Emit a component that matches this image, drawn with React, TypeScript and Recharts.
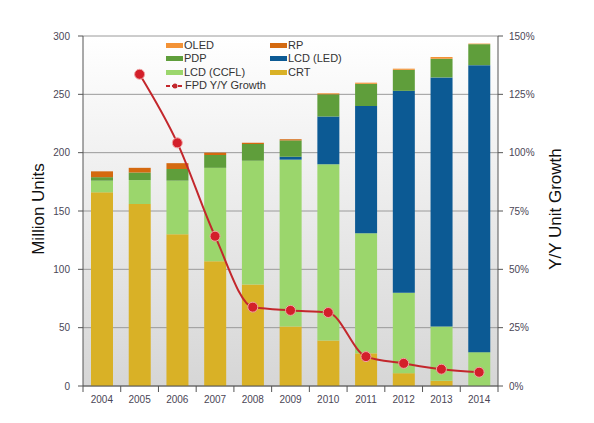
import React from 'react';
import { ComposedChart, Bar, Line, XAxis, YAxis, CartesianGrid } from 'recharts';

const years = ['2004', '2005', '2006', '2007', '2008', '2009', '2010', '2011', '2012', '2013', '2014'];
const crt = [166, 156, 130, 107, 87, 51, 39, 28, 11, 4.5, 0];
const lcdCcfl = [10, 20.5, 46, 80, 106, 143, 151, 103, 69, 46.5, 29];
const lcdLed = [0, 0, 0, 0, 0, 2.5, 41, 109, 173, 213.5, 246];
const pdp = [3, 6.5, 10, 11, 14.5, 14, 19, 19, 18, 16, 18];
const rp = [5, 4, 5, 2, 1, 1, 0.3, 0, 0, 0, 0];
const oled = [0, 0, 0, 0, 0, 0, 0.6, 1, 1, 1.5, 0.5];
const growth = [null, 133.6, 104.2, 64.2, 33.8, 32.4, 31.5, 12.6, 9.7, 7.2, 5.9];

const unitTicks = [0, 50, 100, 150, 200, 250, 300];
const growthTicks = [0, 25, 50, 75, 100, 125, 150];

const data = years.map((year, i) => ({
  year,
  crt: crt[i],
  lcdCcfl: lcdCcfl[i],
  lcdLed: lcdLed[i],
  pdp: pdp[i],
  rp: rp[i],
  oled: oled[i],
  growth: growth[i],
}));

const W = 594;
const H = 423;
const LEFT_W = 83;
const RIGHT_W = 96;
const BAND = (W - LEFT_W - RIGHT_W) / years.length;
const BAR_W = 22;

const colors = {
  crt: '#d9b126',
  lcdCcfl: '#9bd66c',
  lcdLed: '#0c5a94',
  pdp: '#5f9e3b',
  rp: '#d4690f',
  oled: '#f39236',
  line: '#c3272c',
};

const tickStyle = { fontSize: 10, fill: '#4a4656', fontFamily: 'Liberation Sans, Arial, sans-serif' };

const YearTick = (props: any) => {
  const { x, y, payload, index } = props;
  const left = x - BAND / 2;
  return (
    <g>
      <line x1={left} x2={left} y1={y - 8} y2={y - 2} stroke="#555" />
      {index === years.length - 1 && (
        <line x1={x + BAND / 2} x2={x + BAND / 2} y1={y - 8} y2={y - 2} stroke="#555" />
      )}
      <text x={x} y={y + 9} textAnchor="middle" {...tickStyle}>
        {payload.value}
      </text>
    </g>
  );
};

const legendRows = [
  [
    { label: 'OLED', color: colors.oled },
    { label: 'RP', color: colors.rp },
  ],
  [
    { label: 'PDP', color: colors.pdp },
    { label: 'LCD (LED)', color: colors.lcdLed },
  ],
  [
    { label: 'LCD (CCFL)', color: colors.lcdCcfl },
    { label: 'CRT', color: colors.crt },
  ],
];

const legendText: React.CSSProperties = {
  fontSize: 11,
  color: '#333',
  fontFamily: 'Liberation Sans, Arial, sans-serif',
  lineHeight: '13px',
};

const Swatch = ({ color }: { color: string }) => (
  <span style={{ display: 'inline-block', width: 17, height: 5, background: color, marginRight: 1 }} />
);

const ChartLegend = () => (
  <div style={{ position: 'absolute', left: 166, top: 39, ...legendText }}>
    {legendRows.map((row, r) => (
      <div key={r} style={{ display: 'flex', alignItems: 'center', height: 13.3 }}>
        <div style={{ width: 104, display: 'flex', alignItems: 'center' }}>
          <Swatch color={row[0].color} />
          {row[0].label}
        </div>
        <div style={{ display: 'flex', alignItems: 'center' }}>
          <Swatch color={row[1].color} />
          {row[1].label}
        </div>
      </div>
    ))}
    <div style={{ display: 'flex', alignItems: 'center', height: 13.3 }}>
      <svg width={18} height={8} style={{ marginRight: 1 }}>
        <line x1={0} x2={18} y1={4} y2={4} stroke={colors.line} strokeWidth={2} strokeDasharray="4 2" />
        <circle cx={9} cy={4} r={2.5} fill={colors.line} />
      </svg>
      FPD Y/Y Growth
    </div>
  </div>
);

const axisTitle = (text: string, cx: number) => () => (
  <text
    x={cx}
    y={209}
    transform={`rotate(-90 ${cx} 209)`}
    textAnchor="middle"
    dominantBaseline="central"
    fontSize={17}
    fill="#111"
    fontFamily="Liberation Sans, Arial, sans-serif"
  >
    {text}
  </text>
);

export default function App() {
  return (
    <div style={{ position: 'relative', width: W, height: H }}>
      <style>{`body{margin:0}`}</style>
      <svg width={0} height={0} style={{ position: 'absolute' }}>
        <defs>
          <linearGradient id="plotBg" x1="0" y1="0" x2="0" y2="1">
            <stop offset="0%" stopColor="#ffffff" />
            <stop offset="100%" stopColor="#d6d6d6" />
          </linearGradient>
        </defs>
      </svg>
      <ComposedChart
        width={W}
        height={H}
        data={data}
        margin={{ top: 36, right: 0, bottom: 0, left: 0 }}
      >
        <CartesianGrid vertical={false} stroke="#9a9a9a" fill="url(#plotBg)" yAxisId="left" />
        <XAxis
          dataKey="year"
          height={37}
          tickLine={false}
          axisLine={{ stroke: '#555' }}
          tick={<YearTick />}
          interval={0}
        />
        <YAxis
          yAxisId="left"
          width={LEFT_W}
          domain={[0, 300]}
          ticks={unitTicks}
          tickSize={5}
          tickMargin={8}
          stroke="#555"
          tick={tickStyle}
          label={axisTitle('Million Units', 38)}
        />
        <YAxis
          yAxisId="right"
          orientation="right"
          width={RIGHT_W}
          domain={[0, 150]}
          ticks={growthTicks}
          tickFormatter={(v: number) => `${v}%`}
          tickSize={5}
          tickMargin={6}
          stroke="#555"
          tick={tickStyle}
          label={axisTitle('Y/Y Unit Growth', 555)}
        />
        <Bar yAxisId="left" dataKey="crt" stackId="a" barSize={BAR_W} fill={colors.crt} isAnimationActive={false} />
        <Bar yAxisId="left" dataKey="lcdCcfl" stackId="a" barSize={BAR_W} fill={colors.lcdCcfl} isAnimationActive={false} />
        <Bar yAxisId="left" dataKey="lcdLed" stackId="a" barSize={BAR_W} fill={colors.lcdLed} isAnimationActive={false} />
        <Bar yAxisId="left" dataKey="pdp" stackId="a" barSize={BAR_W} fill={colors.pdp} isAnimationActive={false} />
        <Bar yAxisId="left" dataKey="rp" stackId="a" barSize={BAR_W} fill={colors.rp} isAnimationActive={false} />
        <Bar yAxisId="left" dataKey="oled" stackId="a" barSize={BAR_W} fill={colors.oled} isAnimationActive={false} />
        <Line
          yAxisId="right"
          dataKey="growth"
          type="monotone"
          stroke={colors.line}
          strokeWidth={2}
          dot={{ r: 5, fill: '#d31f2a', stroke: '#f0a5a5', strokeWidth: 1 }}
          connectNulls={false}
          isAnimationActive={false}
        />
      </ComposedChart>
      <ChartLegend />
    </div>
  );
}
